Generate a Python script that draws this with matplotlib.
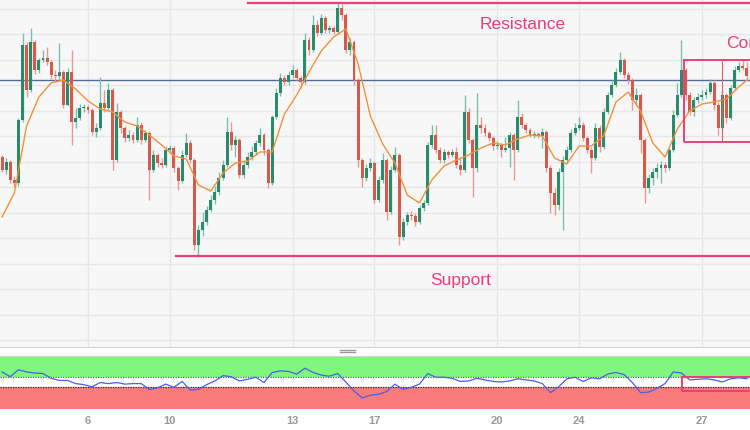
import matplotlib
matplotlib.use("Agg")
import matplotlib.pyplot as plt
import numpy as np
from matplotlib.patches import Rectangle
from matplotlib.lines import Line2D

# ---------------- data (price units are arbitrary points) ----------------
first_open = 183
close = [170, 178, 160, 157, 220, 295, 250, 298, 270, 280,
         282, 278, 265, 264, 268, 235, 268, 218, 222, 232,
         233, 230, 208, 212, 237, 232, 250, 180, 228, 212,
         202, 205, 200, 215, 200, 207, 170, 185, 177, 175,
         190, 192, 172, 159, 185, 197, 180, 95, 110, 118,
         130, 140, 148, 162, 175, 208, 195, 200, 165, 175,
         183, 188, 197, 205, 190, 157, 223, 247, 262, 258,
         265, 270, 262, 258, 300, 290, 315, 307, 322, 310,
         312, 308, 332, 325, 290, 298, 260, 180, 162, 172,
         177, 140, 160, 180, 128, 170, 185, 103, 118, 125,
         124, 118, 132, 137, 195, 205, 190, 180, 188, 185,
         188, 175, 170, 228, 200, 172, 215, 212, 207, 202,
         194, 195, 190, 192, 205, 190, 223, 215, 210, 205,
         206, 204, 208, 172, 147, 135, 168, 180, 190, 207,
         212, 215, 202, 190, 182, 212, 193, 228, 245, 255,
         268, 280, 265, 260, 240, 245, 200, 152, 162, 168,
         172, 175, 172, 190, 225, 245, 270, 245, 228, 240,
         243, 245, 248, 257, 235, 212, 245, 222, 252, 270,
         274, 272, 264]
high = [185, 182, 180, 164, 222, 307, 298, 312, 300, 282,
        290, 293, 280, 270, 297, 270, 272, 290, 232, 236,
        236, 235, 232, 217, 263, 250, 257, 252, 237, 230,
        214, 210, 208, 223, 218, 210, 209, 190, 187, 182,
        194, 195, 194, 174, 190, 207, 200, 182, 115, 128,
        134, 145, 154, 168, 180, 223, 218, 204, 202, 180,
        188, 194, 200, 212, 207, 192, 225, 252, 267, 265,
        269, 275, 272, 264, 307, 303, 325, 320, 326, 324,
        315, 314, 337, 336, 327, 302, 300, 262, 182, 176,
        182, 179, 164, 187, 182, 174, 193, 187, 122, 128,
        129, 127, 135, 140, 198, 215, 215, 193, 191, 190,
        191, 193, 182, 245, 232, 202, 247, 223, 216, 209,
        204, 199, 197, 203, 208, 207, 240, 227, 217, 212,
        209, 208, 212, 210, 175, 152, 172, 184, 194, 211,
        217, 223, 218, 204, 193, 217, 215, 232, 248, 260,
        272, 288, 282, 268, 262, 252, 247, 202, 166, 172,
        177, 179, 178, 192, 230, 257, 300, 272, 248, 243,
        247, 250, 252, 261, 260, 238, 250, 247, 255, 274,
        278, 280, 278]
low = [168, 166, 157, 153, 154, 218, 243, 248, 266, 267,
       278, 275, 261, 259, 260, 232, 234, 195, 212, 220,
       228, 227, 205, 203, 210, 228, 230, 170, 178, 207,
       198, 199, 197, 198, 196, 198, 140, 168, 173, 172,
       173, 187, 168, 150, 157, 183, 177, 90, 83, 104,
       115, 128, 136, 145, 160, 173, 190, 183, 162, 162,
       172, 180, 185, 194, 185, 152, 155, 221, 244, 255,
       255, 262, 260, 252, 256, 285, 288, 304, 305, 307,
       307, 306, 306, 320, 287, 285, 255, 173, 153, 159,
       169, 137, 138, 157, 120, 126, 168, 95, 100, 115,
       120, 114, 116, 129, 135, 192, 187, 177, 177, 182,
       183, 172, 165, 168, 197, 143, 168, 207, 204, 199,
       190, 191, 183, 188, 173, 160, 188, 212, 207, 203,
       202, 202, 192, 168, 127, 125, 130, 110, 177, 188,
       205, 210, 199, 187, 167, 180, 188, 191, 226, 243,
       253, 266, 262, 256, 230, 236, 187, 137, 147, 155,
       162, 157, 168, 170, 188, 223, 243, 240, 225, 224,
       237, 240, 242, 246, 230, 205, 210, 217, 220, 250,
       268, 270, 260]

# moving average read every 3 bars
ma_idx = list(range(0, 181, 3)) + [182]
ma_vals = [123, 147, 214, 243, 257, 260, 251, 239, 231, 228,
           218, 214, 205, 195, 184, 181, 155, 149, 167, 177,
           179, 188, 188, 226, 245, 268, 289, 303, 311, 276,
           224, 196, 177, 145, 137, 160, 174, 180, 185, 192,
           197, 195, 201, 205, 204, 182, 176, 194, 194, 204,
           238, 248, 229, 197, 183, 211, 229, 236, 238, 241,
           253, 260]

# oscillator read every 2 bars
rsi_idx = list(range(0, 183, 2))
rsi_vals = [69, 60, 73, 69, 67, 66, 57, 53, 53, 47, 45, 41, 49, 47, 49, 46,
            47, 47, 36, 39, 46, 40, 51, 35, 36, 45, 52, 62, 60, 52, 55, 59,
            49, 68, 71, 70, 65, 76, 68, 63, 61, 66, 50, 33, 20, 25,
            27, 32, 46, 36, 40, 46, 66, 59, 59, 57, 51, 52, 57, 54, 51, 50,
            52, 56, 54, 52, 47, 30, 41, 56, 59, 51, 58, 56, 65, 68, 64, 49,
            30, 31, 38, 47, 69, 67, 54, 55, 56, 54, 50, 56, 58, 56]

day_labels = ["6", "10", "13", "17", "20", "24", "27"]
day_pos = [21, 41, 71, 91, 121, 141, 171]

blue_level = 259.7
resistance_level = 337.3
resistance_start = 60
support_level = 84
support_start = 42.5
box_x0, box_x1, box_mid = 166.6, 190, 176
box_top, box_bottom = 280, 198
rsi_box_x0, rsi_box_top, rsi_box_bottom = 166.2, 60, 33
rsi_upper, rsi_lower = 60, 40

# ---------------- figure ----------------
W, H = 750, 430
fig = plt.figure(figsize=(W / 100, H / 100), dpi=100)
fig.patch.set_facecolor("white")
plt.rcParams['font.family'] = ['Liberation Sans', 'DejaVu Sans']

n = len(close)
opens = [first_open] + close[:-1]
xmin, xmax = -0.5, 182.75

ax = fig.add_axes([0, 1 - 347 / H, 1, 347 / H])
ax.set_facecolor("#f7f7f7")
ax.set_xlim(xmin, xmax)
ax.set_ylim(-7, 340)
for g in np.arange(0, 340, 25.5):
    ax.axhline(g, color="#e7e7e7", lw=1, zorder=0)
for p in day_pos:
    ax.axvline(p, color="#e7e7e7", lw=1, zorder=0)
ax.set_xticks([])
ax.set_yticks([])
for s in ["top", "left", "right"]:
    ax.spines[s].set_visible(False)
ax.spines["bottom"].set_color("#d5d5d5")

ax.axhline(blue_level, color="#4f6c9c", lw=1.0, zorder=1)

green = "#2a8a6c"
red = "#d65a4a"
green_w = "#7dbfa9"
red_w = "#e89a92"
xs = np.arange(n)
o = np.array(opens)
c = np.array(close)
up = c >= o
ax.vlines(xs[up], np.array(low)[up], np.array(high)[up], color=green_w, lw=1, zorder=2)
ax.vlines(xs[~up], np.array(low)[~up], np.array(high)[~up], color=red_w, lw=1, zorder=2)
bottoms = np.minimum(o, c)
heights = np.maximum(np.abs(c - o), 1.2)
ax.bar(xs[up], heights[up], bottom=bottoms[up], width=0.72, color=green, lw=0, zorder=3)
ax.bar(xs[~up], heights[~up], bottom=bottoms[~up], width=0.72, color=red, lw=0, zorder=3)

ax.plot(ma_idx, ma_vals, color="#f4913f", lw=1.0, zorder=4)

pink = "#ec3f78"
ax.plot([resistance_start, xmax + 5], [resistance_level] * 2, color=pink, lw=1.6, zorder=5, clip_on=False)
ax.plot([support_start, xmax + 5], [support_level] * 2, color=pink, lw=1.6, zorder=5)
ax.add_patch(Rectangle((box_x0, box_bottom), box_x1 - box_x0, box_top - box_bottom,
                       fill=False, edgecolor=pink, lw=1.4, zorder=5))
ax.plot([box_mid, box_mid], [box_bottom, box_top], color="#e0625e", lw=0.8, zorder=5)

ax.text(127.3, 316, "Resistance", color=pink, fontsize=12.5, ha="center", va="center")
ax.text(112.1, 59, "Support", color=pink, fontsize=12.5, ha="center", va="center")
ax.text(176.9, 297, "Consolidation", color=pink, fontsize=12.5, ha="left", va="center", clip_on=True)

# ---------------- oscillator panel ----------------
ax2 = fig.add_axes([0, 1 - 408.5 / H, 1, 53 / H])
ax2.set_xlim(xmin, xmax)
ax2.set_ylim(0, 100)
ax2.axhspan(rsi_upper, 100, color="#7ef77c", lw=0, zorder=0)
ax2.axhspan(0, rsi_lower, color="#fa7b7b", lw=0, zorder=0)
ax2.axhspan(rsi_lower, rsi_upper, color="white", lw=0, zorder=0)
ax2.axhline(rsi_upper, color="#4d6b4d", lw=0.9, ls=(0, (1, 1)), zorder=1)
ax2.axhline(rsi_lower, color="#333333", lw=0.9, ls=(0, (1, 1)), zorder=1)
ax2.plot(rsi_idx, rsi_vals, color="#4a5ef2", lw=0.9, zorder=3)
ax2.add_patch(Rectangle((rsi_box_x0, rsi_box_bottom), 30, rsi_box_top - rsi_box_bottom,
                        fill=False, edgecolor=pink, lw=1.4, zorder=4))
ax2.set_yticks([])
ax2.set_xticks(day_pos)
ax2.set_xticklabels(day_labels, fontsize=8, color="#999999", fontweight="bold")
ax2.tick_params(axis="x", length=0, pad=5.5)
for s in ["left", "right", "bottom"]:
    ax2.spines[s].set_visible(False)
ax2.spines["top"].set_color("#d5d5d5")

# separator handle
for yy in (349.5, 352.0):
    fig.add_artist(Line2D([340 / W, 355 / W], [1 - yy / H, 1 - yy / H],
                          color="#9a9a9a", lw=1.0))

fig.savefig("out.png", dpi=100, facecolor="white")
